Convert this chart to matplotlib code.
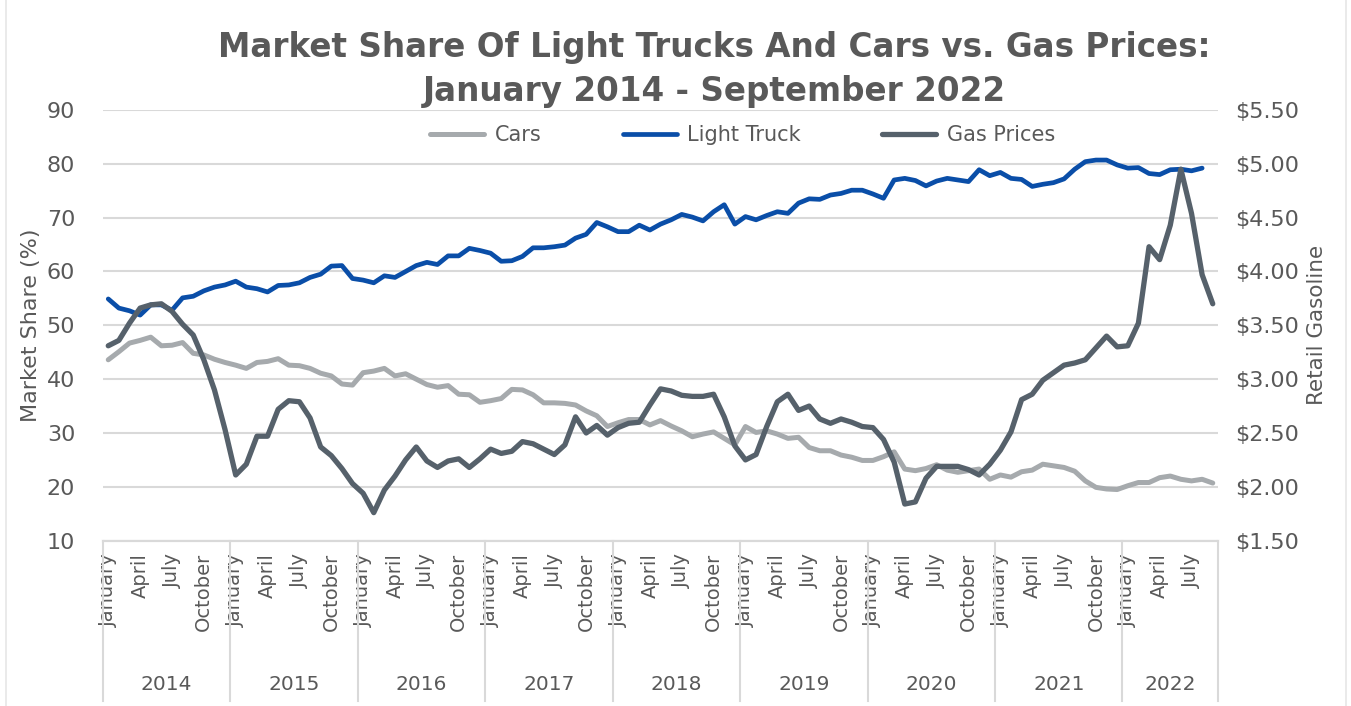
import numpy as np
import matplotlib.pyplot as plt
import matplotlib.transforms as mtransforms
from matplotlib.lines import Line2D

# Monthly data, January 2014 - September 2022
years = [2014, 2015, 2016, 2017, 2018, 2019, 2020, 2021, 2022]
month_names = ['January', 'February', 'March', 'April', 'May', 'June', 'July',
               'August', 'September', 'October', 'November', 'December']

cars = [43.6, 45.1, 46.7, 47.2, 47.8, 46.2, 46.3, 46.8, 44.8, 44.5, 43.7, 43.1,
        42.6, 42.0, 43.1, 43.3, 43.8, 42.6, 42.5, 42.0, 41.1, 40.6, 39.1, 38.9,
        41.2, 41.5, 42.0, 40.6, 41.0, 40.0, 39.0, 38.5, 38.8, 37.2, 37.1, 35.7,
        36.0, 36.4, 38.1, 38.0, 37.1, 35.6, 35.6, 35.5, 35.2, 34.1, 33.2, 31.2,
        31.9, 32.5, 32.5, 31.5, 32.3, 31.3, 30.4, 29.3, 29.8, 30.2, 29.0, 27.8,
        31.2, 30.1, 30.4, 29.8, 29.0, 29.2, 27.3, 26.7, 26.7, 25.9, 25.5, 24.9,
        24.9, 25.6, 26.5, 23.3, 23.0, 23.4, 24.1, 23.1, 22.7, 23.0, 23.3, 21.4,
        22.2, 21.8, 22.8, 23.1, 24.2, 23.9, 23.6, 22.9, 21.1, 19.9, 19.6, 19.5,
        20.2, 20.8, 20.8, 21.7, 22.0, 21.4, 21.1, 21.4, 20.7]

light_truck = [54.9, 53.2, 52.7, 51.9, 53.8, 53.8, 52.8, 55.1, 55.4, 56.4, 57.1, 57.5,
               58.2, 57.1, 56.8, 56.2, 57.4, 57.5, 57.9, 58.9, 59.5, 61.0, 61.1, 58.7,
               58.4, 57.9, 59.2, 58.9, 60.0, 61.1, 61.7, 61.3, 62.9, 62.9, 64.3, 63.9,
               63.4, 61.9, 62.0, 62.8, 64.4, 64.4, 64.6, 64.9, 66.2, 66.9, 69.1, 68.3,
               67.4, 67.4, 68.6, 67.7, 68.8, 69.6, 70.6, 70.1, 69.4, 71.1, 72.4, 68.8,
               70.2, 69.6, 70.4, 71.1, 70.8, 72.7, 73.5, 73.4, 74.2, 74.5, 75.1, 75.1,
               74.4, 73.6, 77.0, 77.3, 76.9, 75.9, 76.8, 77.3, 77.0, 76.7, 78.9, 77.8,
               78.4, 77.3, 77.1, 75.8, 76.2, 76.5, 77.2, 79.0, 80.4, 80.7, 80.7, 79.8,
               79.2, 79.3, 78.2, 78.0, 78.9, 79.0, 78.7, 79.2]

gas_prices = [3.31, 3.36, 3.52, 3.66, 3.69, 3.70, 3.63, 3.51, 3.41, 3.18, 2.90, 2.53,
              2.11, 2.21, 2.47, 2.47, 2.72, 2.80, 2.79, 2.64, 2.37, 2.29, 2.17, 2.03,
              1.94, 1.76, 1.97, 2.10, 2.25, 2.37, 2.24, 2.18, 2.24, 2.26, 2.18, 2.26,
              2.35, 2.31, 2.33, 2.42, 2.40, 2.35, 2.30, 2.39, 2.65, 2.50, 2.57, 2.48,
              2.55, 2.59, 2.60, 2.76, 2.91, 2.89, 2.85, 2.84, 2.84, 2.86, 2.65, 2.38,
              2.25, 2.30, 2.56, 2.79, 2.86, 2.71, 2.75, 2.63, 2.59, 2.63, 2.60, 2.56,
              2.55, 2.44, 2.23, 1.84, 1.86, 2.08, 2.19, 2.19, 2.19, 2.16, 2.11, 2.21,
              2.34, 2.51, 2.81, 2.86, 2.99, 3.06, 3.13, 3.15, 3.18, 3.29, 3.40, 3.30,
              3.31, 3.52, 4.23, 4.11, 4.43, 4.95, 4.54, 3.97, 3.70]

n = len(cars)
x = np.arange(n)
txt = '#595959'
grid_c = '#D9D9D9'

plt.rcParams['font.family'] = ['DejaVu Sans']

fig = plt.figure(figsize=(13.51, 7.06), dpi=100)
ax = fig.add_axes([0.0762, 0.2342, 0.8254, 0.6100])
ax2 = ax.twinx()

ax.plot(x, cars, color='#A6AAAD', lw=3.6, solid_capstyle='round', label='Cars', zorder=3)
ax.plot(x[:len(light_truck)], light_truck, color='#0A4EA8', lw=3.4,
        solid_capstyle='round', label='Light Truck', zorder=3)
ax2.plot(x, gas_prices, color='#56616B', lw=3.8, solid_capstyle='round', label='Gas Prices')

ax.set_xlim(-0.5, n - 0.5)
ax.set_ylim(10, 90)
ax.set_yticks(range(10, 91, 10))
ax2.set_ylim(1.5, 5.5)
ax2.set_yticks(np.arange(1.5, 5.51, 0.5))
ax2.set_yticklabels(['$%.2f' % v for v in np.arange(1.5, 5.51, 0.5)])

ax.yaxis.grid(True, color=grid_c, lw=1.5)
ax.set_axisbelow(True)
for a in (ax, ax2):
    for s in ('left', 'right', 'top'):
        a.spines[s].set_visible(False)
    a.spines['bottom'].set_color(grid_c)
    a.spines['bottom'].set_linewidth(1.5)
    a.tick_params(axis='y', length=0, labelsize=16, labelcolor=txt, pad=20)
ax2.tick_params(axis='y', pad=12)

# month ticks (every third month)
tick_pos = [i for i in x if i % 3 == 0]
ax.set_xticks(tick_pos)
ax.set_xticklabels([month_names[i % 12] for i in tick_pos], rotation=90,
                   fontsize=14, color=txt)
ax.tick_params(axis='x', length=0, pad=9)

# year groups under the month labels
trans = mtransforms.blended_transform_factory(ax.transData, ax.transAxes)
bounds = [-0.5]
for k, yr in enumerate(years):
    end = min(bounds[-1] + 12, n - 0.5)
    ax.text((bounds[-1] + end) / 2, -0.335, str(yr), transform=trans,
            ha='center', va='center', fontsize=14.5, color=txt)
    bounds.append(end)
for b in bounds:
    ax.plot([b, b], [0, -0.372], transform=trans, color=grid_c, lw=1.5, clip_on=False)

ax.set_ylabel('Market Share (%)', fontsize=16, color=txt, labelpad=4)
ax2.set_ylabel('Retail Gasoline', fontsize=15.5, color=txt, labelpad=6)

fig.text(0.529, 0.933, 'Market Share Of Light Trucks And Cars vs. Gas Prices:',
         ha='center', va='center', fontsize=23.5, fontweight='bold', color=txt)
fig.text(0.529, 0.871, 'January 2014 - September 2022',
         ha='center', va='center', fontsize=23.5, fontweight='bold', color=txt)

handles = ax.get_lines()[:2] + ax2.get_lines()[:1]
fig.legend(handles, [h.get_label() for h in handles], loc='center',
           bbox_to_anchor=(0.5496, 0.809), ncol=3, frameon=False, fontsize=15,
           labelcolor=txt, handlelength=2.6, columnspacing=3.9, handletextpad=0.5)

# faint outer frame
for xf in (0.0045, 0.9965):
    fig.add_artist(Line2D([xf, xf], [0, 1], color='#E6E6E6', lw=1.2))

fig.savefig('out.png', dpi=100)
